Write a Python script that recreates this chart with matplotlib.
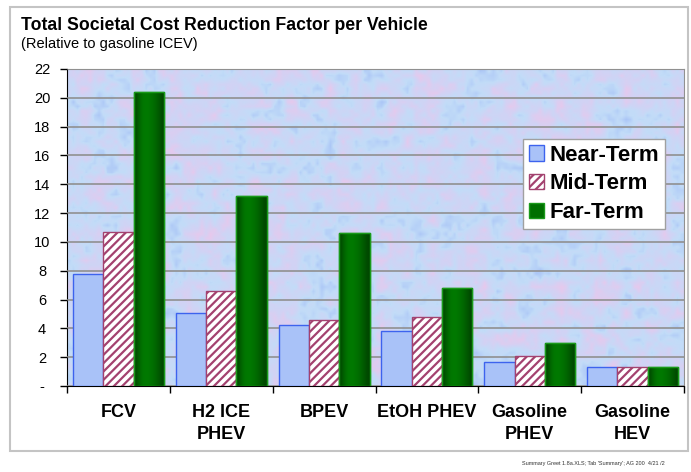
import numpy as np
import matplotlib
matplotlib.use("Agg")
import matplotlib.pyplot as plt
from matplotlib.patches import Rectangle, Patch
from matplotlib.colors import LinearSegmentedColormap
from matplotlib.ticker import FuncFormatter, FixedLocator

plt.rcParams['font.family'] = ['Liberation Sans', 'DejaVu Sans']
plt.rcParams['hatch.linewidth'] = 1.6

# datos
categorias = ["FCV", "H2 ICE\nPHEV", "BPEV", "EtOH PHEV", "Gasoline\nPHEV", "Gasoline\nHEV"]
near_term = [7.8, 5.1, 4.2, 3.85, 1.7, 1.35]
mid_term = [10.7, 6.6, 4.6, 4.8, 2.1, 1.35]
far_term = [20.4, 13.2, 10.6, 6.8, 2.95, 1.3]
series = ["Near-Term", "Mid-Term", "Far-Term"]

fig = plt.figure(figsize=(6.91, 4.72), dpi=100)
W, H = 691., 472.

# marco exterior gris
fig.patches.append(Rectangle((10 / W, 1 - 451 / H), 678 / W, 444 / H, transform=fig.transFigure,
                             fill=False, edgecolor='#c4c4c4', linewidth=1.5))

fig.text(21 / W, 1 - 26 / H, "Total Societal Cost Reduction Factor per Vehicle",
         fontsize=12.7, fontweight='bold', va='center', ha='left')
fig.text(21 / W, 1 - 44 / H, "(Relative to gasoline ICEV)", fontsize=10.5, va='center', ha='left')
fig.text(522 / W, 1 - 464 / H, "Summary Greet 1.8a.XLS; Tab 'Summary'; AG 200  4/21 /2",
         fontsize=4, va='center', ha='left', color='#333333')

ax = fig.add_axes([67 / W, 1 - 386 / H, (684 - 67) / W, (386 - 69) / H])

# fondo con textura azul/rosa (solo decorativo): mezcla de manchas grandes y grano fino
rng = np.random.default_rng(7)
grueso = np.repeat(np.repeat(rng.random((24, 48)), 3, axis=0), 3, axis=1)
grueso = (grueso + np.roll(grueso, 1, 0) + np.roll(grueso, 1, 1) + np.roll(grueso, -1, 0) + np.roll(grueso, -1, 1)) / 5.0
fino = rng.random((72, 144))
ruido = 0.65 * grueso + 0.35 * fino
ruido = (ruido - ruido.min()) / (ruido.max() - ruido.min())
cmap_fondo = LinearSegmentedColormap.from_list("fondo", ['#a9c4f6', '#c2dcf8', '#d2d2f4', '#e8c8ec'])
ax.imshow(ruido, extent=[-0.5, 5.5, 0, 22], aspect='auto', cmap=cmap_fondo,
          interpolation='bilinear', zorder=0)

x = np.arange(len(categorias))
ancho = 0.295

ax.bar(x - ancho, near_term, ancho, color='#a9c2f8', edgecolor='#3d63ee', linewidth=1.0, zorder=3)
ax.bar(x, mid_term, ancho, color='white', edgecolor='#a3426f', hatch='////', linewidth=1.0, zorder=3)
barras_far = ax.bar(x + ancho, far_term, ancho, color='#007000', edgecolor='#1a9a1a', linewidth=1.0, zorder=3)

# sombreado cilindrico de las barras verdes
grad = np.array([[0.35, 0.7, 0.95, 1.0, 0.95, 0.85, 0.7, 0.5, 0.3]])
cmap_verde = LinearSegmentedColormap.from_list("verde", ['#003000', '#007a00'])
for b in barras_far:
    im = ax.imshow(grad, extent=[b.get_x(), b.get_x() + b.get_width(), 0, b.get_height()],
                   aspect='auto', cmap=cmap_verde, vmin=0, vmax=1, interpolation='bicubic', zorder=3.5)
    im.set_clip_path(b)
    ax.add_patch(Rectangle((b.get_x(), 0), b.get_width(), b.get_height(), fill=False,
                           edgecolor='#1a9a1a', linewidth=1.0, zorder=4))

ax.set_xlim(-0.5, 5.5)
ax.set_ylim(0, 22)
ax.set_yticks(np.arange(0, 23, 2))
ax.yaxis.set_major_formatter(FuncFormatter(lambda v, p: "-" if v == 0 else "%d" % v))
ax.yaxis.grid(True, color='#909090', linewidth=1.2, zorder=1)
ax.set_axisbelow(False)
ax.tick_params(axis='y', direction='out', length=5, width=1, labelsize=10.5, pad=13)
for t in ax.get_yticklabels():
    t.set_horizontalalignment('center')

ax.set_xticks(x)
ax.set_xticklabels(categorias, fontsize=13, fontweight='bold', linespacing=1.35)
ax.tick_params(axis='x', length=0, pad=13)
ax.xaxis.set_minor_locator(FixedLocator(np.arange(-0.5, 6, 1)))
ax.tick_params(axis='x', which='minor', direction='out', length=5, width=1)

ax.spines['left'].set_color('black')
ax.spines['bottom'].set_color('black')
ax.spines['top'].set_color('#909090')
ax.spines['right'].set_color('#909090')

handles = [Patch(facecolor='#a9c2f8', edgecolor='#3d63ee'),
           Patch(facecolor='white', edgecolor='#a3426f', hatch='////'),
           Patch(facecolor='#007000', edgecolor='#1a9a1a')]
leg = ax.legend(handles, series, loc='upper left', bbox_to_anchor=((523 - 67) / 617., (386 - 139) / 317.),
                prop={'weight': 'bold', 'size': 16}, frameon=True, fancybox=False,
                framealpha=1, edgecolor='#a0a0a0', handlelength=0.7, handleheight=0.7,
                handletextpad=0.25, borderpad=0.25, labelspacing=0.35, borderaxespad=0)
leg.set_zorder(10)

fig.savefig("out.png", dpi=100)
